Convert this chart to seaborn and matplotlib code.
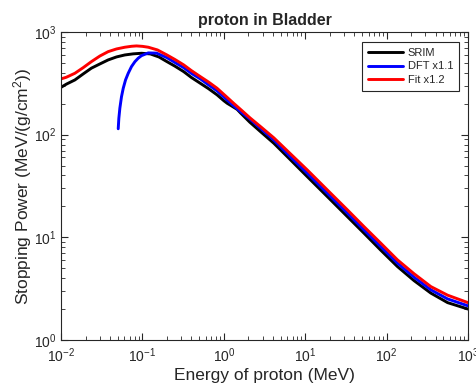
import numpy as np
import pandas as pd
import matplotlib
matplotlib.use("Agg")
import matplotlib.pyplot as plt
import seaborn as sns
from matplotlib.ticker import LogLocator, NullFormatter

srim_x = [0.01, 0.0116, 0.0148, 0.0187, 0.0236, 0.030, 0.0379, 0.048, 0.0608, 0.077,
          0.0975, 0.125, 0.16, 0.2, 0.25, 0.321, 0.4, 0.515, 0.65, 0.826,
          1.0, 1.1, 1.25, 1.46, 1.6, 2.09, 2.9, 4.12, 6.5, 10.6,
          20.6, 33, 52.8, 85, 136, 218, 350, 562, 1000]
srim_y = [289, 310, 341, 390, 444, 488, 534, 571, 597, 612,
          620, 611, 570, 514, 465, 411, 360, 316, 280, 244,
          214, 202, 190, 176, 163, 132, 105, 82.4, 57.5, 39.0,
          23.1, 15.9, 10.96, 7.48, 5.19, 3.78, 2.86, 2.31, 2.0]

dft_x = [0.0504, 0.0513, 0.0528, 0.0553, 0.0581, 0.0620, 0.0669, 0.0734, 0.0809, 0.0887,
         0.0975, 0.118, 0.149, 0.2, 0.25, 0.321, 0.4, 0.515, 0.65, 0.826,
         1.04, 1.32, 1.66, 2.09, 2.9, 4.12, 6.5, 10.6, 20.6, 33,
         52.8, 85, 136, 218, 350, 562, 1000]
dft_y = [114, 144, 181, 234, 283, 341, 396, 460, 514, 555,
         588, 625, 622, 562, 505, 449, 395, 349, 305, 267,
         226, 191, 164, 142, 113, 88.7, 61.5, 42.1, 24.9, 17.2,
         11.8, 8.11, 5.6, 4.08, 3.08, 2.51, 2.15]

fit_x = [0.01, 0.0116, 0.0148, 0.0187, 0.0236, 0.030, 0.0379, 0.048, 0.0608, 0.0734,
         0.0845, 0.10, 0.118, 0.153, 0.2, 0.25, 0.321, 0.4, 0.515, 0.65,
         0.826, 1.04, 1.32, 1.66, 2.09, 2.9, 4.12, 6.5, 10.6, 20.6,
         33, 52.8, 85, 136, 218, 350, 562, 1000]
fit_y = [349, 362, 396, 449, 514, 583, 643, 683, 710, 725,
         731, 724, 710, 668, 597, 540, 478, 420, 367, 325,
         283, 240, 202, 172, 146, 117.7, 93, 65.7, 45.3, 26.8,
         18.5, 12.7, 8.75, 6.03, 4.41, 3.31, 2.73, 2.31]

labels = ["SRIM", "DFT x1.1", "Fit x1.2"]
colors = ["#000000", "#0000ff", "#ff0000"]

df = pd.concat([
    pd.DataFrame({"E": srim_x, "S": srim_y, "series": labels[0]}),
    pd.DataFrame({"E": dft_x, "S": dft_y, "series": labels[1]}),
    pd.DataFrame({"E": fit_x, "S": fit_y, "series": labels[2]}),
], ignore_index=True)

sns.set_style("white")
plt.rcParams["font.family"] = ["Liberation Sans", "DejaVu Sans"]
plt.rcParams["mathtext.fontset"] = "custom"
plt.rcParams["mathtext.rm"] = "Liberation Sans"
plt.rcParams["mathtext.it"] = "Liberation Sans:italic"

fig = plt.figure(figsize=(4.77, 3.85), dpi=100)
ax = fig.add_axes([0.128, 0.117, 0.853, 0.800])

sns.lineplot(data=df, x="E", y="S", hue="series", palette=dict(zip(labels, colors)),
             hue_order=labels, sort=False, linewidth=2.1, ax=ax, legend=True)

ax.set_xscale("log")
ax.set_yscale("log")
ax.set_xlim(1e-2, 1e3)
ax.set_ylim(1e0, 1e3)

for s in ax.spines.values():
    s.set_visible(True)
    s.set_color("#262626")
    s.set_linewidth(0.8)

ax.xaxis.set_major_locator(LogLocator(base=10, numticks=10))
ax.yaxis.set_major_locator(LogLocator(base=10, numticks=10))
ax.xaxis.set_minor_locator(LogLocator(base=10, subs=np.arange(2, 10), numticks=20))
ax.yaxis.set_minor_locator(LogLocator(base=10, subs=np.arange(2, 10), numticks=20))
ax.xaxis.set_minor_formatter(NullFormatter())
ax.yaxis.set_minor_formatter(NullFormatter())
ax.tick_params(which="both", direction="in", top=True, right=True, bottom=True, left=True,
               colors="#262626", labelsize=10)
ax.tick_params(which="major", length=5, width=0.8)
ax.tick_params(which="minor", length=3, width=0.6)
ax.tick_params(axis="x", which="major", pad=5)

ax.set_title("proton in Bladder", fontsize=11.5, fontweight="bold", pad=5)
ax.set_xlabel("Energy of proton (MeV)", fontsize=12.5, color="#262626", labelpad=2)
ax.set_ylabel("Stopping Power (MeV/(g/cm$^2$))", fontsize=12.5, color="#262626", labelpad=0)

leg = ax.legend(loc="upper right", bbox_to_anchor=(0.978, 0.9675), borderaxespad=0,
                fontsize=8, frameon=True, fancybox=False, edgecolor="#262626",
                framealpha=1, handlelength=3.2, borderpad=0.5, labelspacing=0.35,
                handletextpad=0.4)
leg.get_frame().set_linewidth(0.8)
leg.set_title(None)

fig.savefig("out.png", dpi=100)
